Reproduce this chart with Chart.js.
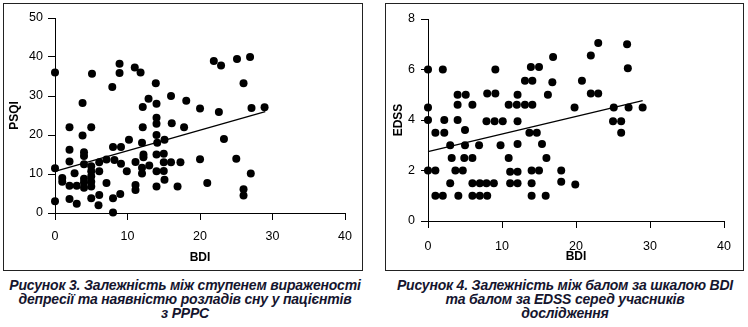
<!DOCTYPE html>
<html>
<head>
<meta charset="utf-8">
<script src="https://cdn.jsdelivr.net/npm/chart.js@4/dist/chart.umd.min.js"></script>
<style>
  html, body { margin: 0; padding: 0; background: #fff; width: 748px; height: 327px; overflow: hidden; }
  .box { position: absolute; box-sizing: border-box; border: 1px solid #222; background: #fff; }
  canvas { position: absolute; }
  .cap { position: absolute; text-align: center; font-family: "Liberation Sans Narrow", "Arial Narrow", "Liberation Sans", Arial, sans-serif;
         font-weight: bold; font-style: italic; font-size: 14px; line-height: 14px; letter-spacing: -0.2px; color: #15152e; }
</style>
</head>
<body>
<div class="box" style="left:3px; top:3px; width:360px; height:268px;"></div>
<div class="box" style="left:385px; top:3px; width:359px; height:268px;"></div>
<canvas id="c3" width="357" height="265" style="left:4px; top:4px;"></canvas>
<canvas id="c4" width="356" height="265" style="left:386px; top:4px;"></canvas>
<div class="cap" style="left:0px; top:278px; width:370px;">Рисунок 3. Залежність між ступенем вираженості<br>депресії та наявністю розладів сну у пацієнтів<br>з РРРС</div>
<div class="cap" style="left:380px; top:278px; width:370px;">Рисунок 4. Залежність між балом за шкалою BDI<br>та балом за EDSS серед учасників<br>дослідження</div>
<script>
// ---- Figure 3: BDI vs PSQI ----
const bdi3 = [0,0,0, 1,1, 2,2,2,2,2, 2.7,3,3, 3.8,3.8,4,4,4,4,4,4,
  5,5.1,5,5,5,5,5,5, 6.1,6.1,6.1,6, 7.1,7.1, 7.9,8,8.2,8,8,
  8.9,8.9,9.1,9.1,9, 9.9,10.2, 11,11.1,11.1,11.1,
  11.8,12.1,12.1,12,12.2,12.2,12,12, 12.9,13,
  13.9,14,14,14,14,14.1,14,14,14, 15.1,15,15,15,15.1,
  16,16.1,16, 16.9,17.3, 18.1,17.8, 20,20, 21,
  21.9,22.9,22.6,23.3, 25,25.1, 26,26,26, 26.9,27.1,27, 28.9];
const psqi = [36,11.5,3, 9,8, 22,16.2,13.2,7,3.6, 10.2,7,2.4, 28.2,19.9,15.6,14.6,12.5,8.8,7.8,6.5,
  22,35.7,12,10.7,9.4,8,6.8,3.8, 13,10.7,4.6,2, 13.7,7.7, 32.3,16.9,13.6,3.8,0.1,
  38.3,35.9,16.9,12.6,4.9, 10.7,18.8, 37.3,13.1,7.2,5.9,
  36,27.2,22,18,15,14.3,11.6,10.1, 29.3,12.2,
  33.3,28,24.4,22.9,20,18,15,10.7,6.8, 18.8,15.2,13,10.8,8.5,
  30,23,13, 6.8,13, 28.8,22, 26.8,13.8, 7.7,
  39,37.8,25.9,19, 13.9,39.5, 33.3,6.1,4.5, 40,26.9,10.1, 27.1];
const fit3X = [0, 29];
const fit3Y = [10.7, 26];
const xTicks = [0, 10, 20, 30, 40];
const yTicks3 = [0, 10, 20, 30, 40, 50];

// ---- Figure 4: BDI vs EDSS ----
const bdi4 = [0,0,0,0, 1,1,1, 2,2.2,2.2,2, 3,3.2,3, 4,4,4,3.7,4.1,
  5,5,4.9,4.7,5.1, 6,6,6,6, 6.9,7,7, 7.9,8,8,7.9,
  8.9,9.1,9.1,9, 9.8,10.1, 10.9,10.9,11.1,11.1,
  12.1,12,12.1,12.1,12.1,12.1, 13.1,13.1,13.7,
  13.9,14.1,14.1,14,14,14, 14.7,15,15,15.4,16,15.9,
  16.2,16.8,16.9, 18,18, 19.8,19.9, 20.8,
  22,22,23,23, 25,25.1,26.1,26.1, 26.9,27,27.1, 29];
const edss = [6,4.5,4,2, 3.5,2,1, 6,4,3.5,1, 3,2.5,1.5, 5,4.6,4,2,1,
  3.6,3,2.5,2,5, 4.6,2.5,1.5,1, 3,1.5,1, 1.5,1,5.05,3.95,
  1.5,6,5.05,3.95, 3,3.95, 2.5,4.6,1.95,1.5,
  5,4.6,3.95,3.05,1.95,1.5, 5.55,4.6,3.5,
  6.1,5.55,4.6,2,1.5,1, 3.5,6.1,2,3.05,2.5,1,
  5,5.5,6.5, 2,1.55, 4.5,1.45, 5.55,
  6.55,5.05,7.05,5.05, 3.95,4.5,3.95,3.5, 7,6.05,4.5, 4.5];
const fit4X = [0, 29];
const fit4Y = [2.75, 4.77];
const yTicks4 = [0, 2, 4, 6, 8];

function toPts(xs, ys) { return xs.map((x, i) => ({ x: x, y: ys[i] })); }

function makeChart(id, xs, ys, fx, fy, yTicks, yTitle, g) {
  const ctx = document.getElementById(id).getContext('2d');
  return new Chart(ctx, {
    type: 'scatter',
    data: {
      datasets: [
        { data: toPts(xs, ys), backgroundColor: '#000', borderWidth: 0, pointRadius: 4, pointHoverRadius: 4, clip: false },
        { type: 'line', data: toPts(fx, fy), borderColor: '#000', borderWidth: 1.3, pointRadius: 0, fill: false, clip: false }
      ]
    },
    options: {
      responsive: false, animation: false, devicePixelRatio: 1,
      layout: { padding: { left: 0, top: g.top, right: g.right, bottom: 0 } },
      plugins: { legend: { display: false }, tooltip: { enabled: false } },
      scales: {
        x: {
          type: 'linear', min: xTicks[0], max: xTicks[xTicks.length - 1],
          afterBuildTicks: s => { s.ticks = xTicks.map(v => ({ value: v })); },
          afterFit: s => { s.height = g.xh; },
          grid: { drawOnChartArea: false, drawTicks: true, tickLength: 7, color: '#000', lineWidth: 1 },
          border: { display: true, color: '#000', width: 1 },
          ticks: { color: '#000', padding: g.xpad, font: { family: 'Liberation Sans, Arial, sans-serif', size: 12.5 }, maxRotation: 0 },
          title: { display: true, text: 'BDI', color: '#000', padding: { top: 0, bottom: g.tb },
                   font: { family: 'Liberation Sans, Arial, sans-serif', size: 12, weight: 'bold' } }
        },
        y: {
          type: 'linear', min: yTicks[0], max: yTicks[yTicks.length - 1],
          afterBuildTicks: s => { s.ticks = yTicks.map(v => ({ value: v })); },
          afterFit: s => { s.width = g.yw; },
          grid: { drawOnChartArea: false, drawTicks: true, tickLength: 7, color: '#000', lineWidth: 1 },
          border: { display: true, color: '#000', width: 1 },
          ticks: { color: '#000', padding: g.ypad, font: { family: 'Liberation Sans, Arial, sans-serif', size: 12.5 } },
          title: { display: true, text: yTitle, color: '#000', padding: { top: g.tl, bottom: 0 },
                   font: { family: 'Liberation Sans, Arial, sans-serif', size: 12, weight: 'bold' } }
        }
      }
    }
  });
}

makeChart('c3', bdi3, psqi, fit3X, fit3Y, yTicks3, 'PSQI',
  { top: 14, right: 11, xh: 56, yw: 51, xpad: 9, ypad: 5, tb: 4, tl: 3 });
makeChart('c4', bdi4, edss, fit4X, fit4Y, yTicks4, 'EDSS',
  { top: 15, right: 9, xh: 48, yw: 42, xpad: 11, ypad: 6, tb: 5, tl: 5 });
</script>
</body>
</html>
